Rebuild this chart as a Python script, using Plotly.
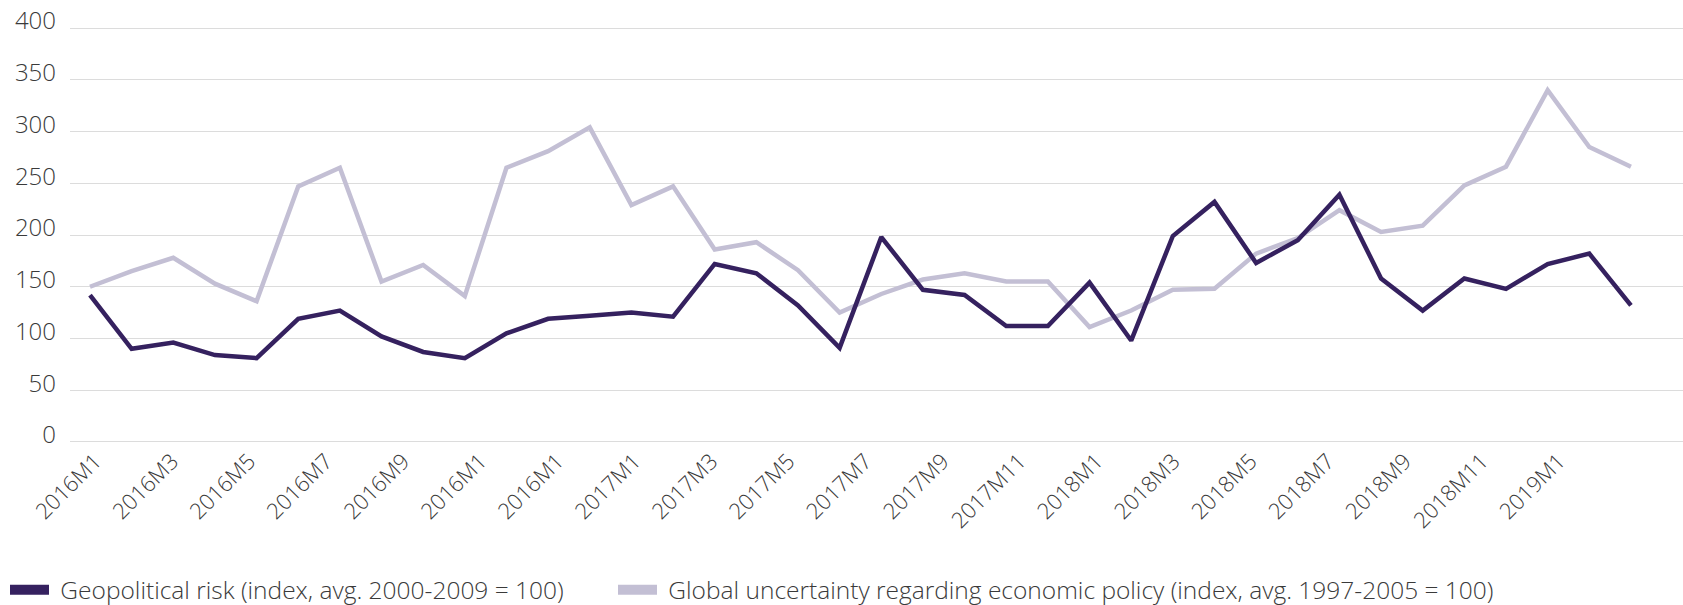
import plotly.graph_objects as go

# ---- data ----
months = [f"{y}M{m}" for y in (2016, 2017, 2018) for m in range(1, 13)] + ["2019M1", "2019M2"]

geopolitical_risk = [142, 90, 96, 84, 81, 119, 127, 102, 87, 81, 105, 119, 122, 125, 121,
                     172, 163, 132, 91, 198, 147, 142, 112, 112, 154, 98, 199, 232, 173,
                     195, 239, 158, 127, 158, 148, 172, 182, 132]

policy_uncertainty = [150, 165, 178, 153, 136, 247, 265, 155, 171, 141, 265, 281, 304, 229,
                      247, 186, 193, 166, 125, 143, 157, 163, 155, 155, 111, 127, 147, 148,
                      182, 197, 224, 203, 209, 248, 266, 340, 285, 266]

tick_labels = ["2016M1", "2016M3", "2016M5", "2016M7", "2016M9", "2016M1", "2016M1",
               "2017M1", "2017M3", "2017M5", "2017M7", "2017M9", "2017M11", "2018M1",
               "2018M3", "2018M5", "2018M7", "2018M9", "2018M11", "2019M1"]

y_ticks = [0, 50, 100, 150, 200, 250, 300, 350, 400]

name_geo = "Geopolitical risk (index, avg. 2000-2009 = 100)"
name_epu = "Global uncertainty regarding economic policy (index, avg. 1997-2005 = 100)"

# ---- styling ----
DARK = "#35215f"
LIGHT = "#c3bfd4"
TEXT = "#3a3a3a"
GRID = "#dcdcdc"
FONT = "Open Sans"
NBSP = "\u00a0"

x_idx = list(range(len(months)))

fig = go.Figure()
fig.add_trace(go.Scatter(x=x_idx, y=policy_uncertainty, mode="lines", name=name_epu,
                         line=dict(color=LIGHT, width=4.5), showlegend=False,
                         customdata=months, hovertemplate="%{customdata}: %{y}<extra></extra>"))
fig.add_trace(go.Scatter(x=x_idx, y=geopolitical_risk, mode="lines", name=name_geo,
                         line=dict(color=DARK, width=4.5), showlegend=False,
                         customdata=months, hovertemplate="%{customdata}: %{y}<extra></extra>"))
# legend-only entries (thick swatches)
fig.add_trace(go.Scatter(x=[None], y=[None], mode="lines", name=NBSP + name_geo,
                         line=dict(color=DARK, width=14), legend="legend"))
fig.add_trace(go.Scatter(x=[None], y=[None], mode="lines", name=NBSP + name_epu,
                         line=dict(color=LIGHT, width=14), legend="legend2"))

tick_start, tick_step = 0.12, 1.85
tick_vals = [tick_start + tick_step * i for i in range(len(tick_labels))]

legend_common = dict(orientation="h", xref="container", yref="container",
                     xanchor="left", yanchor="middle", y=0.025,
                     font=dict(size=24.5, family=FONT, color=TEXT, weight=300),
                     itemwidth=39, bgcolor="rgba(0,0,0,0)")

fig.update_layout(
    width=1683, height=605,
    margin=dict(l=70, r=0, t=27, b=162, autoexpand=False),
    paper_bgcolor="white", plot_bgcolor="white",
    font=dict(family=FONT, color=TEXT, weight=300),
    showlegend=True,
    legend=dict(x=5 / 1683, **legend_common),
    legend2=dict(x=613 / 1683, **legend_common),
    xaxis=dict(range=[-0.48, 38.25], tickmode="array", tickvals=tick_vals, ticktext=tick_labels,
               tickangle=-45, showgrid=False, zeroline=False, showline=False, ticks="",
               tickfont=dict(size=22, family=FONT, color=TEXT, weight=300), fixedrange=True),
    yaxis=dict(range=[-1, 401], tickmode="array", tickvals=y_ticks, showgrid=True,
               gridcolor=GRID, gridwidth=1.3, zeroline=False, showline=False, ticks="",
               ticklabelstandoff=13, ticklabelshift=-7,
               tickfont=dict(size=24, family=FONT, color=TEXT, weight=300), fixedrange=True),
)

fig.write_html("out.html", config={"displayModeBar": False},
               post_script="document.body.style.margin='0';document.body.style.overflow='hidden';")
